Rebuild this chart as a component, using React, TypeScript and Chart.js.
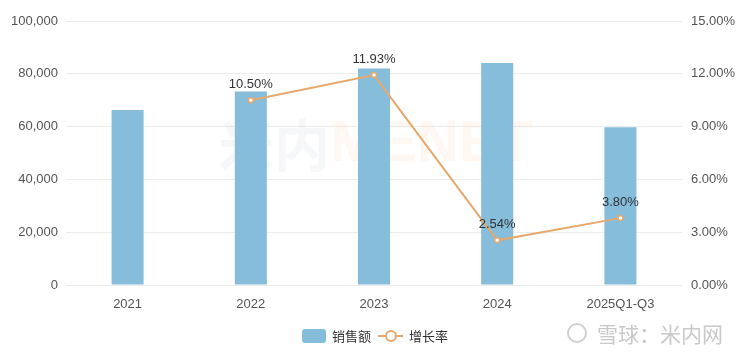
import React, { useEffect, useRef } from "react";
import { Chart, registerables } from "chart.js";

Chart.register(...registerables);

const categories = ["2021", "2022", "2023", "2024", "2025Q1-Q3"];
const salesValues = [66300, 73260, 82000, 84080, 59750];
const growthValues: (number | null)[] = [null, 10.5, 11.93, 2.54, 3.8];
const leftTicks = [0, 20000, 40000, 60000, 80000, 100000];
const rightTicks = [0, 3, 6, 9, 12, 15];

const FONT = "'Liberation Sans', 'Noto Sans CJK SC', sans-serif";
const CJK = "'Noto Sans CJK SC', sans-serif";
const BAR_COLOR = "#85bddb";
const LINE_COLOR = "#e6a86c";

const overlayPlugin = {
  id: "overlay",
  beforeDatasetsDraw(chart: any) {
    const { ctx } = chart;
    ctx.save();
    const cy = 145;
    ctx.textBaseline = "middle";
    ctx.textAlign = "left";
    const start = 218;
    ctx.font = `bold 56px ${CJK}`;
    const w1 = ctx.measureText("米内").width;
    ctx.fillStyle = "rgba(150,170,190,0.09)";
    ctx.fillText("米内", start, cy);
    ctx.font = `bold 58px ${FONT}`;
    ctx.fillStyle = "rgba(250,170,110,0.09)";
    ctx.fillText("MENET", start + w1, cy);
    ctx.restore();
  },
  afterDatasetsDraw(chart: any) {
    const { ctx } = chart;
    const meta = chart.getDatasetMeta(1);
    ctx.save();
    ctx.font = `13px ${FONT}`;
    ctx.fillStyle = "#333";
    ctx.textAlign = "center";
    ctx.textBaseline = "middle";
    meta.data.forEach((pt: any, i: number) => {
      const v = growthValues[i];
      if (v == null) return;
      ctx.fillText(v.toFixed(2) + "%", pt.x, pt.y - 16);
    });
    ctx.restore();
  },
  afterDraw(chart: any) {
    const { ctx } = chart;
    ctx.save();
    const ly = 336;
    ctx.fillStyle = BAR_COLOR;
    ctx.beginPath();
    (ctx as any).roundRect(302, 329, 24, 14, 3);
    ctx.fill();
    ctx.font = `13px ${CJK}`;
    ctx.fillStyle = "#333";
    ctx.textBaseline = "middle";
    ctx.textAlign = "left";
    ctx.fillText("销售额", 332, ly);
    ctx.strokeStyle = LINE_COLOR;
    ctx.lineWidth = 2;
    ctx.beginPath();
    ctx.moveTo(378, ly);
    ctx.lineTo(403, ly);
    ctx.stroke();
    ctx.beginPath();
    ctx.arc(391, ly, 5, 0, Math.PI * 2);
    ctx.fillStyle = "#fff";
    ctx.fill();
    ctx.stroke();
    ctx.fillStyle = "#333";
    ctx.fillText("增长率", 409, ly);
    ctx.strokeStyle = "#cfcfcf";
    ctx.lineWidth = 2;
    ctx.beginPath();
    ctx.arc(577, 333, 9, 0, Math.PI * 2);
    ctx.stroke();
    ctx.font = `21px ${CJK}`;
    ctx.fillStyle = "#c9c9c9";
    ctx.fillText("雪球：米内网", 597, 334);
    ctx.restore();
  },
};

export default function App() {
  const ref = useRef<HTMLCanvasElement>(null);
  useEffect(() => {
    if (!ref.current) return;
    const chart = new Chart(ref.current, {
      type: "bar",
      data: {
        labels: categories,
        datasets: [
          {
            type: "bar",
            label: "销售额",
            data: salesValues,
            backgroundColor: BAR_COLOR,
            yAxisID: "y",
            barPercentage: 0.52,
            categoryPercentage: 0.5,
            order: 2,
          },
          {
            type: "line",
            label: "增长率",
            data: growthValues,
            borderColor: LINE_COLOR,
            backgroundColor: "#fff",
            borderWidth: 2,
            pointRadius: 2.5,
            pointBorderWidth: 1.5,
            pointBackgroundColor: "#fff",
            pointBorderColor: LINE_COLOR,
            yAxisID: "y1",
            order: 1,
          } as any,
        ],
      },
      options: {
        responsive: false,
        animation: false,
        maintainAspectRatio: false,
        layout: { padding: { top: 21, left: 0, right: 0, bottom: 0 } },
        plugins: { legend: { display: false }, tooltip: { enabled: false } },
        scales: {
          x: {
            grid: { display: false },
            border: { display: false },
            ticks: { color: "#555", font: { size: 13, family: FONT }, padding: 4 },
            afterFit: (s: any) => { s.height = 69; },
          },
          y: {
            position: "left",
            min: 0,
            max: 100000,
            afterBuildTicks: (s: any) => { s.ticks = leftTicks.map((v) => ({ value: v })); },
            grid: { color: "#ececec", drawTicks: false },
            border: { display: false },
            ticks: {
              color: "#555",
              font: { size: 13, family: FONT },
              padding: 8,
              callback: (v: any) => Number(v).toLocaleString("en-US"),
            },
            afterFit: (s: any) => { s.width = 66; },
          },
          y1: {
            position: "right",
            min: 0,
            max: 15,
            afterBuildTicks: (s: any) => { s.ticks = rightTicks.map((v) => ({ value: v })); },
            grid: { display: false },
            border: { display: false },
            ticks: {
              color: "#555",
              font: { size: 13, family: FONT },
              padding: 1,
              callback: (v: any) => Number(v).toFixed(2) + "%",
            },
            afterFit: (s: any) => { s.width = 69; },
          },
        },
      },
      plugins: [overlayPlugin],
    });
    return () => chart.destroy();
  }, []);
  return (
    <div style={{ position: "fixed", left: 0, top: 0, width: 751, height: 354, background: "#fff" }}>
      <canvas ref={ref} width={751} height={354} style={{ width: 751, height: 354 }} />
    </div>
  );
}
